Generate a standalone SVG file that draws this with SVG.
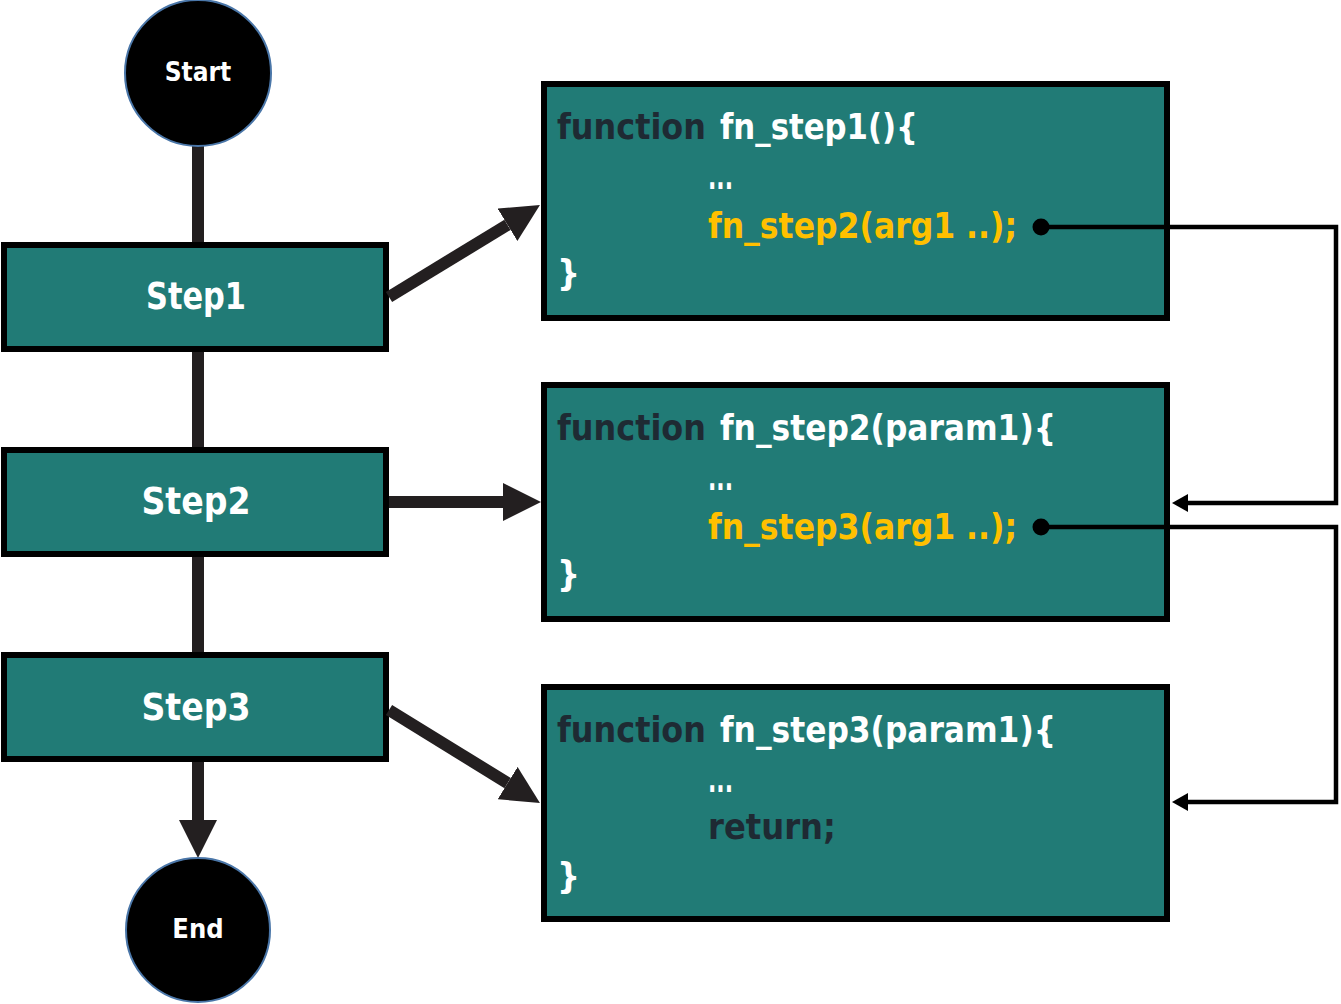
<svg xmlns="http://www.w3.org/2000/svg" width="1341" height="1004" viewBox="0 0 1341 1004">
<style>
.term{fill:#000;stroke:#4a76a8;stroke-width:2}
.step{fill:#217b76;stroke:#000;stroke-width:6}
.code{fill:#217b76;stroke:#000;stroke-width:6}
text{font-family:"DejaVu Sans Condensed","DejaVu Sans",sans-serif;font-weight:bold}
.tl{fill:#fff;font-size:26px;text-anchor:middle}
.sl{fill:#fff;font-size:38px;text-anchor:middle}
.kw{fill:#1e2a33;font-size:36px}
.wh{fill:#fff;font-size:36px}
.ye{fill:#ffc000;font-size:36px}
.thick{stroke:#231f20;stroke-width:12;fill:none}
.thin{stroke:#000;stroke-width:4.5;fill:none}
</style>
<defs>
<marker id="bigArrow" markerUnits="userSpaceOnUse" markerWidth="38" markerHeight="38" viewBox="0 0 38 38" refX="0" refY="19" orient="auto">
<path d="M0,0 L38,19 L0,38 z" fill="#231f20"/>
</marker>
<marker id="smallArrow" markerUnits="userSpaceOnUse" markerWidth="16" markerHeight="18" viewBox="0 0 16 18" refX="0" refY="9" orient="auto">
<path d="M0,0 L16,9 L0,18 z" fill="#000"/>
</marker>
</defs>
<g id="connectors-back">
<line class="thick" x1="198" y1="140" x2="198" y2="248"/>
<line class="thick" x1="198" y1="346" x2="198" y2="453"/>
<line class="thick" x1="198" y1="551" x2="198" y2="658"/>
<line class="thick" x1="198" y1="756" x2="198" y2="820" marker-end="url(#bigArrow)"/>
</g>
<g id="start"><circle class="term" cx="198" cy="73" r="73"/><text class="tl" x="198" y="81">Start</text></g>
<g id="end"><circle class="term" cx="198" cy="930" r="72"/><text class="tl" x="198" y="938" style="font-size:27px">End</text></g>
<g id="step1"><rect class="step" x="4" y="245" width="382" height="104"/><text class="sl" x="196" y="309" textLength="100" lengthAdjust="spacingAndGlyphs">Step1</text></g>
<g id="step2"><rect class="step" x="4" y="450" width="382" height="104"/><text class="sl" x="196" y="514" textLength="109" lengthAdjust="spacingAndGlyphs">Step2</text></g>
<g id="step3"><rect class="step" x="4" y="655" width="382" height="104"/><text class="sl" x="196" y="720" textLength="109" lengthAdjust="spacingAndGlyphs">Step3</text></g>
<g id="fn1">
<rect class="code" x="544" y="84" width="623" height="234"/>
<text class="kw" x="557" y="139" textLength="149" lengthAdjust="spacingAndGlyphs">function</text>
<text class="wh" x="720" y="139" textLength="198" lengthAdjust="spacingAndGlyphs">fn_step1(){</text>
<text class="wh" x="708" y="189" textLength="25" lengthAdjust="spacingAndGlyphs">...</text>
<text class="ye" x="708" y="238" textLength="309" lengthAdjust="spacingAndGlyphs">fn_step2(arg1 ..);</text>
<text class="wh" x="557" y="285">}</text>
</g>
<g id="fn2">
<rect class="code" x="544" y="385" width="623" height="234"/>
<text class="kw" x="557" y="440" textLength="149" lengthAdjust="spacingAndGlyphs">function</text>
<text class="wh" x="720" y="440" textLength="336" lengthAdjust="spacingAndGlyphs">fn_step2(param1){</text>
<text class="wh" x="708" y="490" textLength="25" lengthAdjust="spacingAndGlyphs">...</text>
<text class="ye" x="708" y="539" textLength="309" lengthAdjust="spacingAndGlyphs">fn_step3(arg1 ..);</text>
<text class="wh" x="557" y="586">}</text>
</g>
<g id="fn3">
<rect class="code" x="544" y="687" width="623" height="232"/>
<text class="kw" x="557" y="742" textLength="149" lengthAdjust="spacingAndGlyphs">function</text>
<text class="wh" x="720" y="742" textLength="336" lengthAdjust="spacingAndGlyphs">fn_step3(param1){</text>
<text class="wh" x="708" y="792" textLength="25" lengthAdjust="spacingAndGlyphs">...</text>
<text class="kw" x="708" y="839" textLength="128" lengthAdjust="spacingAndGlyphs">return;</text>
<text class="wh" x="557" y="888">}</text>
</g>
<g id="connectors">
<line class="thick" x1="389" y1="297" x2="507.5" y2="224.8" marker-end="url(#bigArrow)"/>
<line class="thick" x1="389" y1="502" x2="503" y2="502" marker-end="url(#bigArrow)"/>
<line class="thick" x1="389" y1="710" x2="507.6" y2="783.1" marker-end="url(#bigArrow)"/>
<circle cx="1041" cy="227" r="8.5" fill="#000"/>
<polyline class="thin" points="1041,227 1336,227 1336,503 1188,503" marker-end="url(#smallArrow)"/>
<circle cx="1041" cy="527" r="8.5" fill="#000"/>
<polyline class="thin" points="1041,527 1336,527 1336,802 1188,802" marker-end="url(#smallArrow)"/>
</g>
</svg>
